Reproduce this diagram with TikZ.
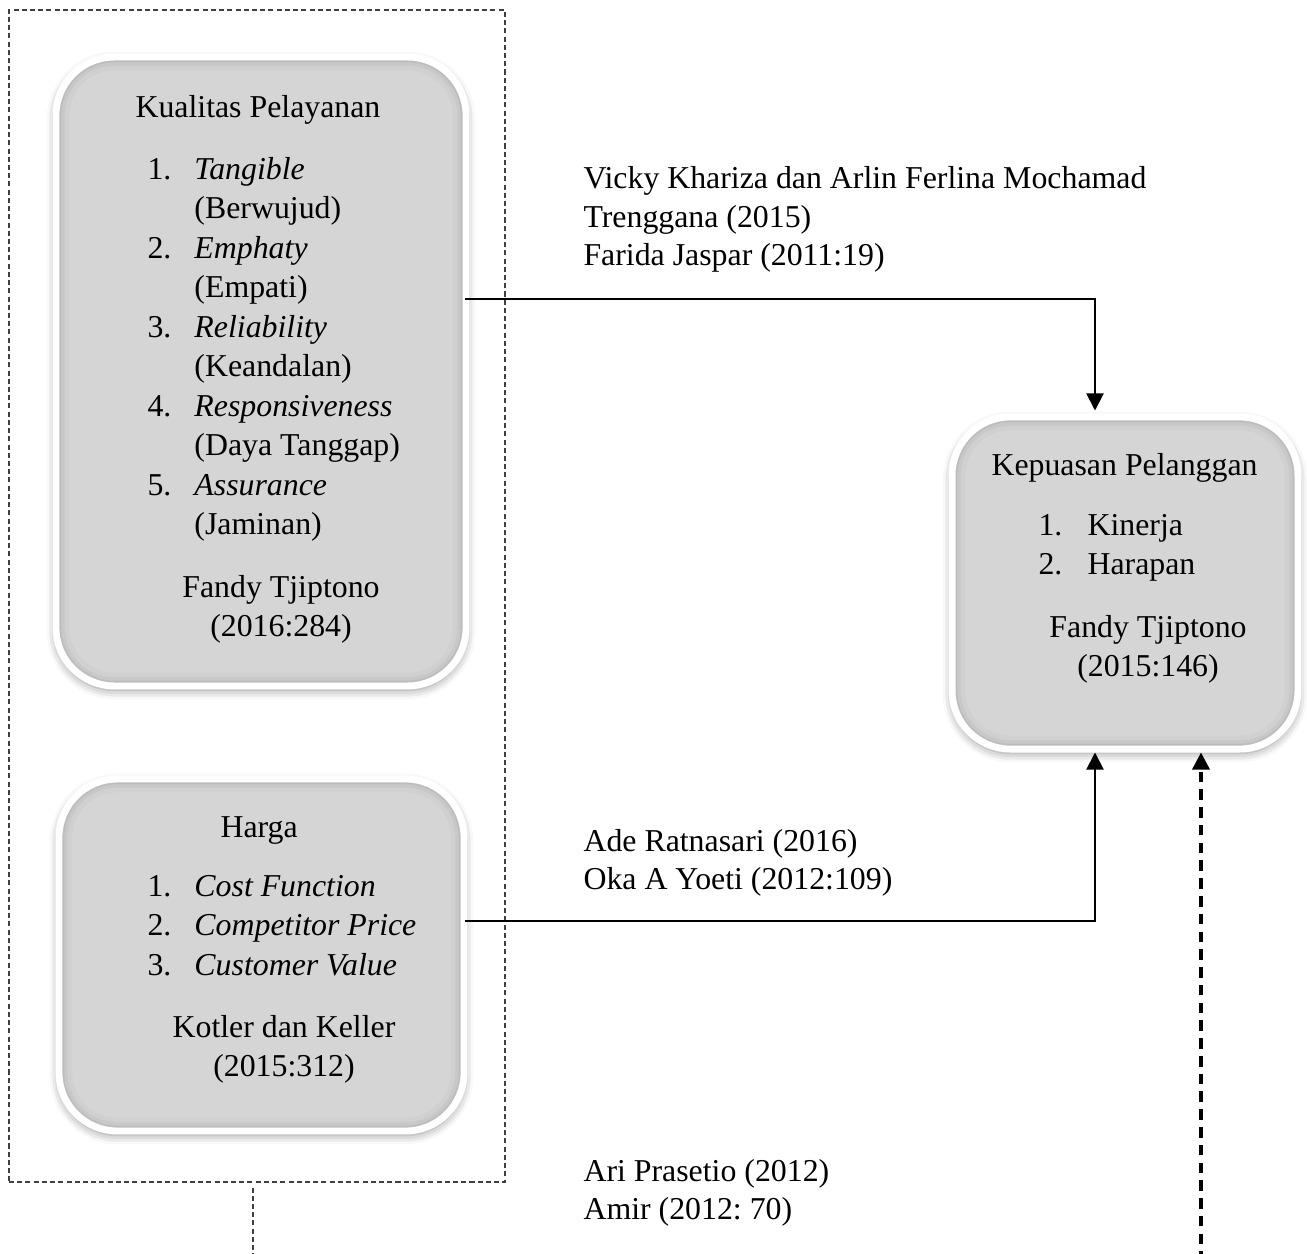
\documentclass[tikz,border=0pt,12pt]{standalone}
\usepackage{fontspec}
\setmainfont{Liberation Serif}
\frenchspacing
\usetikzlibrary{arrows.meta,calc,positioning,shadows.blur}
\tikzstyle{varbox}=[draw=white, line width=2.6pt, fill=gray!33, rounded corners=22pt,
               inner sep=0pt,
               blur shadow={shadow xshift=0pt, shadow yshift=-1.5pt,
                            shadow blur radius=3.5pt, shadow opacity=45},
               path picture={
                 \draw[gray!37, line width=10pt, rounded corners=22pt]
                   (path picture bounding box.south west) rectangle (path picture bounding box.north east);
                 \draw[gray!43, line width=6.5pt, rounded corners=22pt]
                   (path picture bounding box.south west) rectangle (path picture bounding box.north east);
                 \draw[gray!52, line width=4pt, rounded corners=22pt]
                   (path picture bounding box.south west) rectangle (path picture bounding box.north east);
               }]
\tikzstyle{grpbox}=[draw=black!75, line width=0.45pt, dash pattern=on 1.9pt off 1.2pt, inner sep=0pt]
\tikzstyle{conn}=[draw, line width=0.75pt, -{Triangle[width=6.5pt,length=6.5pt]}]
\tikzstyle{dconn}=[conn, line width=1.3pt, dash pattern=on 4pt off 2.7pt]
\tikzstyle{txt}=[inner sep=0pt, anchor=base west]
\tikzstyle{reftxt}=[txt, font=\fontsize{12}{14.5}\selectfont]

\begin{document}
\begin{tikzpicture}[x=0.377pt,y=-0.377pt,font=\fontsize{12}{14.9}\selectfont]

\useasboundingbox (0,0) rectangle (1307,1254);

% % % % % % % % % % % % % % %

\node[grpbox, minimum width=187pt, minimum height=441.8pt] (grp) at (257,596) {};
\coordinate (grpEnd) at (253,1262);
\draw[grpbox] ($(grp.south)+(-4,5)$) -- (grpEnd);

% connectors
\coordinate (amirEnd) at (1201,1262);

\node[varbox, minimum width=154.6pt, minimum height=237.1pt] (kp) at (261,371.5) {};
\node[varbox, minimum width=152.7pt, minimum height=132.7pt] (hrg) at (261.5,955) {};
\node[varbox, minimum width=130.4pt, minimum height=125.2pt] (kep) at (1125,583) {};

\draw[conn] ($(kp.east)+(-4,-72.5)$) -| ($(kep.north)+(-30,-3)$);
\draw[conn] ($(hrg.east)+(-2,-34)$) -| ($(kep.south)+(-30,0)$);
\draw[dconn] (amirEnd) -- ($(kep.south)+(76,0)$);

% kualitas pelayanan
\node[txt] (kpTitle) at (135,117) {Kualitas Pelayanan};
\node[txt] (kpList) at (147,179) {\begin{tabular}[t]{@{}p{17.7pt}@{}l@{}}
1. & \textit{Tangible}\\
   & (Berwujud)\\
2. & \textit{Emphaty}\\
   & (Empati)\\
3. & \textit{Reliability}\\
   & (Keandalan)\\
4. & \textit{Responsiveness}\\
   & (Daya Tanggap)\\
5. & \textit{Assurance}\\
   & (Jaminan)
\end{tabular}};
\node[txt, anchor=base] (kpRef) at (281,597) {\begin{tabular}[t]{@{}c@{}}Fandy Tjiptono\\(2016:284)\end{tabular}};

% harga
\node[txt] (hrgTitle) at (220,837) {Harga};
\node[txt] (hrgList) at (147,896) {\begin{tabular}[t]{@{}p{17.7pt}@{}l@{}}
1. & \textit{Cost Function}\\
2. & \textit{Competitor Price}\\
3. & \textit{Customer Value}
\end{tabular}};
\node[txt, anchor=base] (hrgRef) at (284,1037) {\begin{tabular}[t]{@{}c@{}}Kotler dan Keller\\(2015:312)\end{tabular}};

% kepuasan pelanggan
\node[txt] (kepTitle) at (991,475) {Kepuasan Pelanggan};
\node[txt] (kepList) at (1038,535) {\begin{tabular}[t]{@{}p{18.5pt}@{}l@{}}
1. & Kinerja\\
2. & Harapan
\end{tabular}};
\node[txt, anchor=base] (kepRef) at (1148,637) {\begin{tabular}[t]{@{}c@{}}Fandy Tjiptono\\(2015:146)\end{tabular}};

% sumber
\node[reftxt] (refKp) at (583,189) {\begin{tabular}[t]{@{}l@{}}Vicky Khariza dan Arlin Ferlina Mochamad\\Trenggana (2015)\\Farida Jaspar (2011:19)\end{tabular}};
\node[reftxt] (refHrg) at (583,851) {\begin{tabular}[t]{@{}l@{}}Ade Ratnasari (2016)\\Oka A Yoeti (2012:109)\end{tabular}};
\node[reftxt] (refAll) at (583,1181) {\begin{tabular}[t]{@{}l@{}}Ari Prasetio (2012)\\Amir (2012: 70)\end{tabular}};

\end{tikzpicture}
\end{document}
